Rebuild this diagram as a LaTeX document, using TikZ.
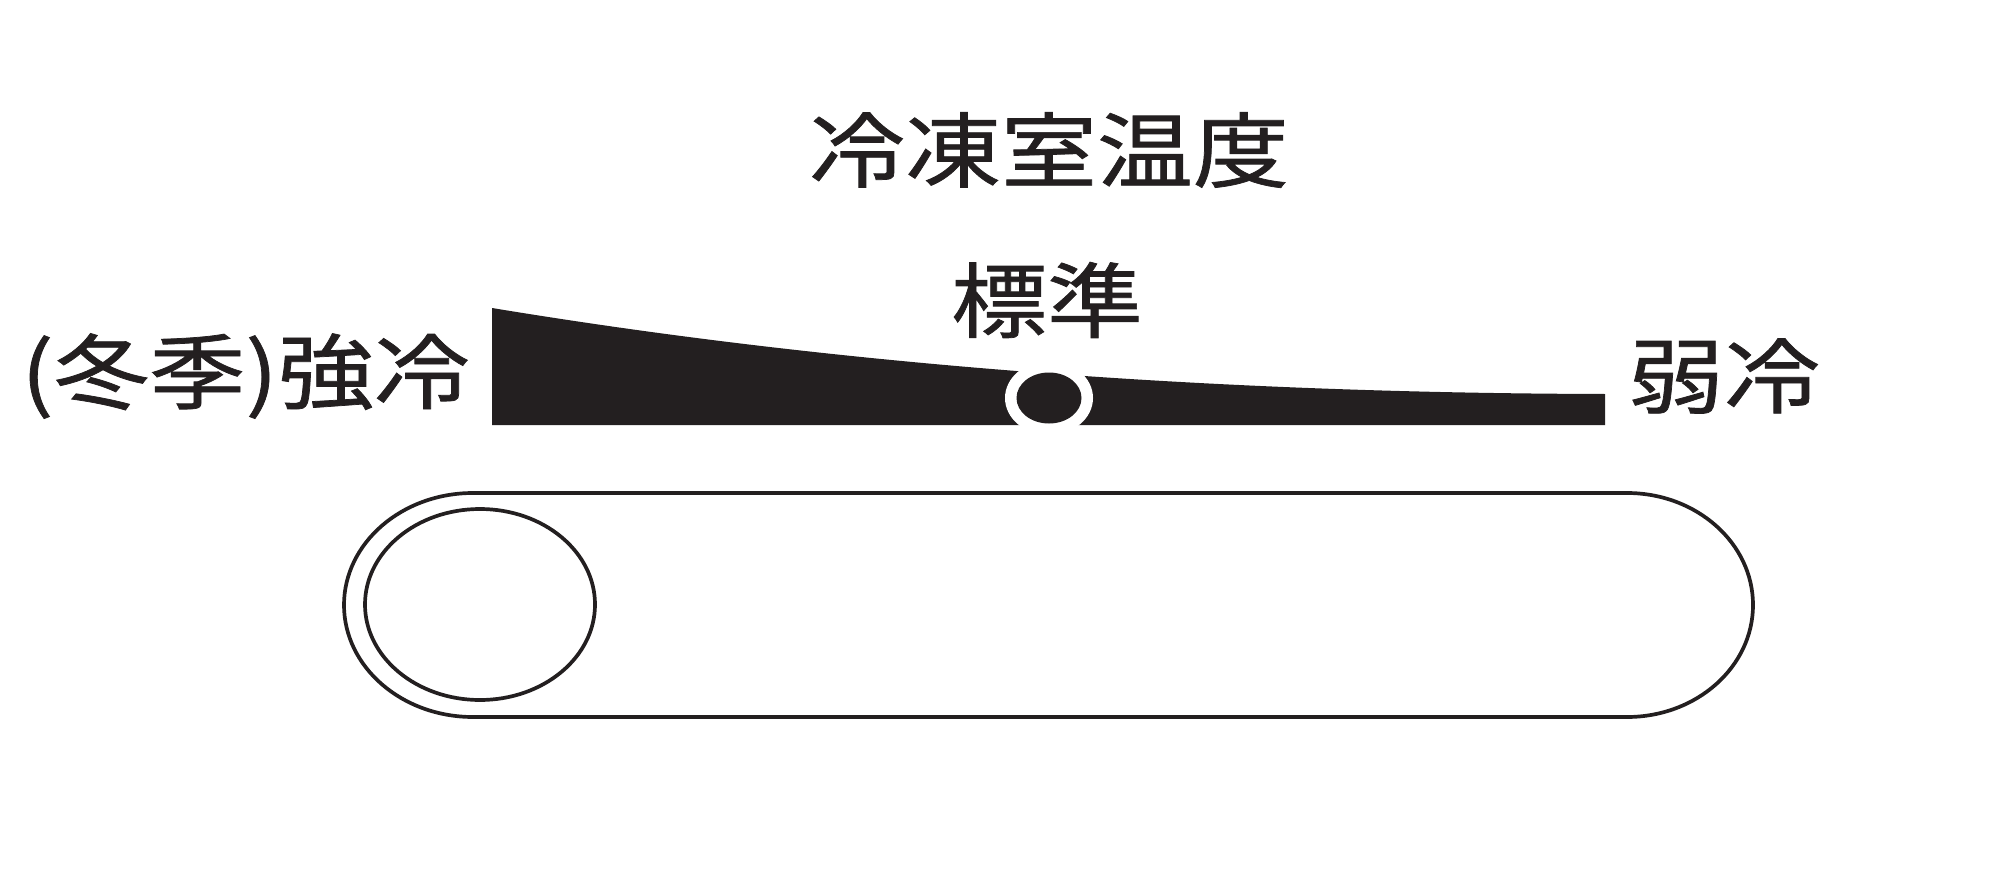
\documentclass[tikz,border=0pt]{standalone}
\usepackage{fontspec}
\newfontfamily\cjk[FakeStretch=1.17, FakeBold=0.9]{Noto Sans CJK JP}
\definecolor{ink}{HTML}{231F20}
\begin{document}
\begin{tikzpicture}[x=1pt,y=-1pt,
  lbl/.style={font=\cjk\fontsize{82}{90}\selectfont, text=ink, inner sep=0pt},
  outline/.style={draw=ink, line width=3.7pt}]
\useasboundingbox (0,0) rectangle (2015,893);
% title
\node[lbl] (title) at (1049,150) {冷凍室温度};
% wedge bar
\fill[ink] (492,308) .. controls (831,364) and (1202,393) .. (1605,394) -- (1605,425) -- (492,425) -- cycle;
\fill[white] (1049,398) ellipse [x radius=44, y radius=37];
\fill[ink] (1049,398) ellipse [x radius=32.5, y radius=25.5];
\node[lbl] (std) at (1047,300) {標準};
\node[lbl, anchor=east] (strong) at (470,376) {(冬季)強冷};
\node[lbl, anchor=west] (weak) at (1628,376) {弱冷};
% capsule
\draw[outline] (473,493) -- (1627,493) arc[start angle=-90, end angle=90, x radius=126, y radius=112] -- (473,717) arc[start angle=90, end angle=270, x radius=129, y radius=112] -- cycle;
\draw[outline] (480,604.5) ellipse [x radius=115, y radius=95.5];
\end{tikzpicture}
\end{document}
